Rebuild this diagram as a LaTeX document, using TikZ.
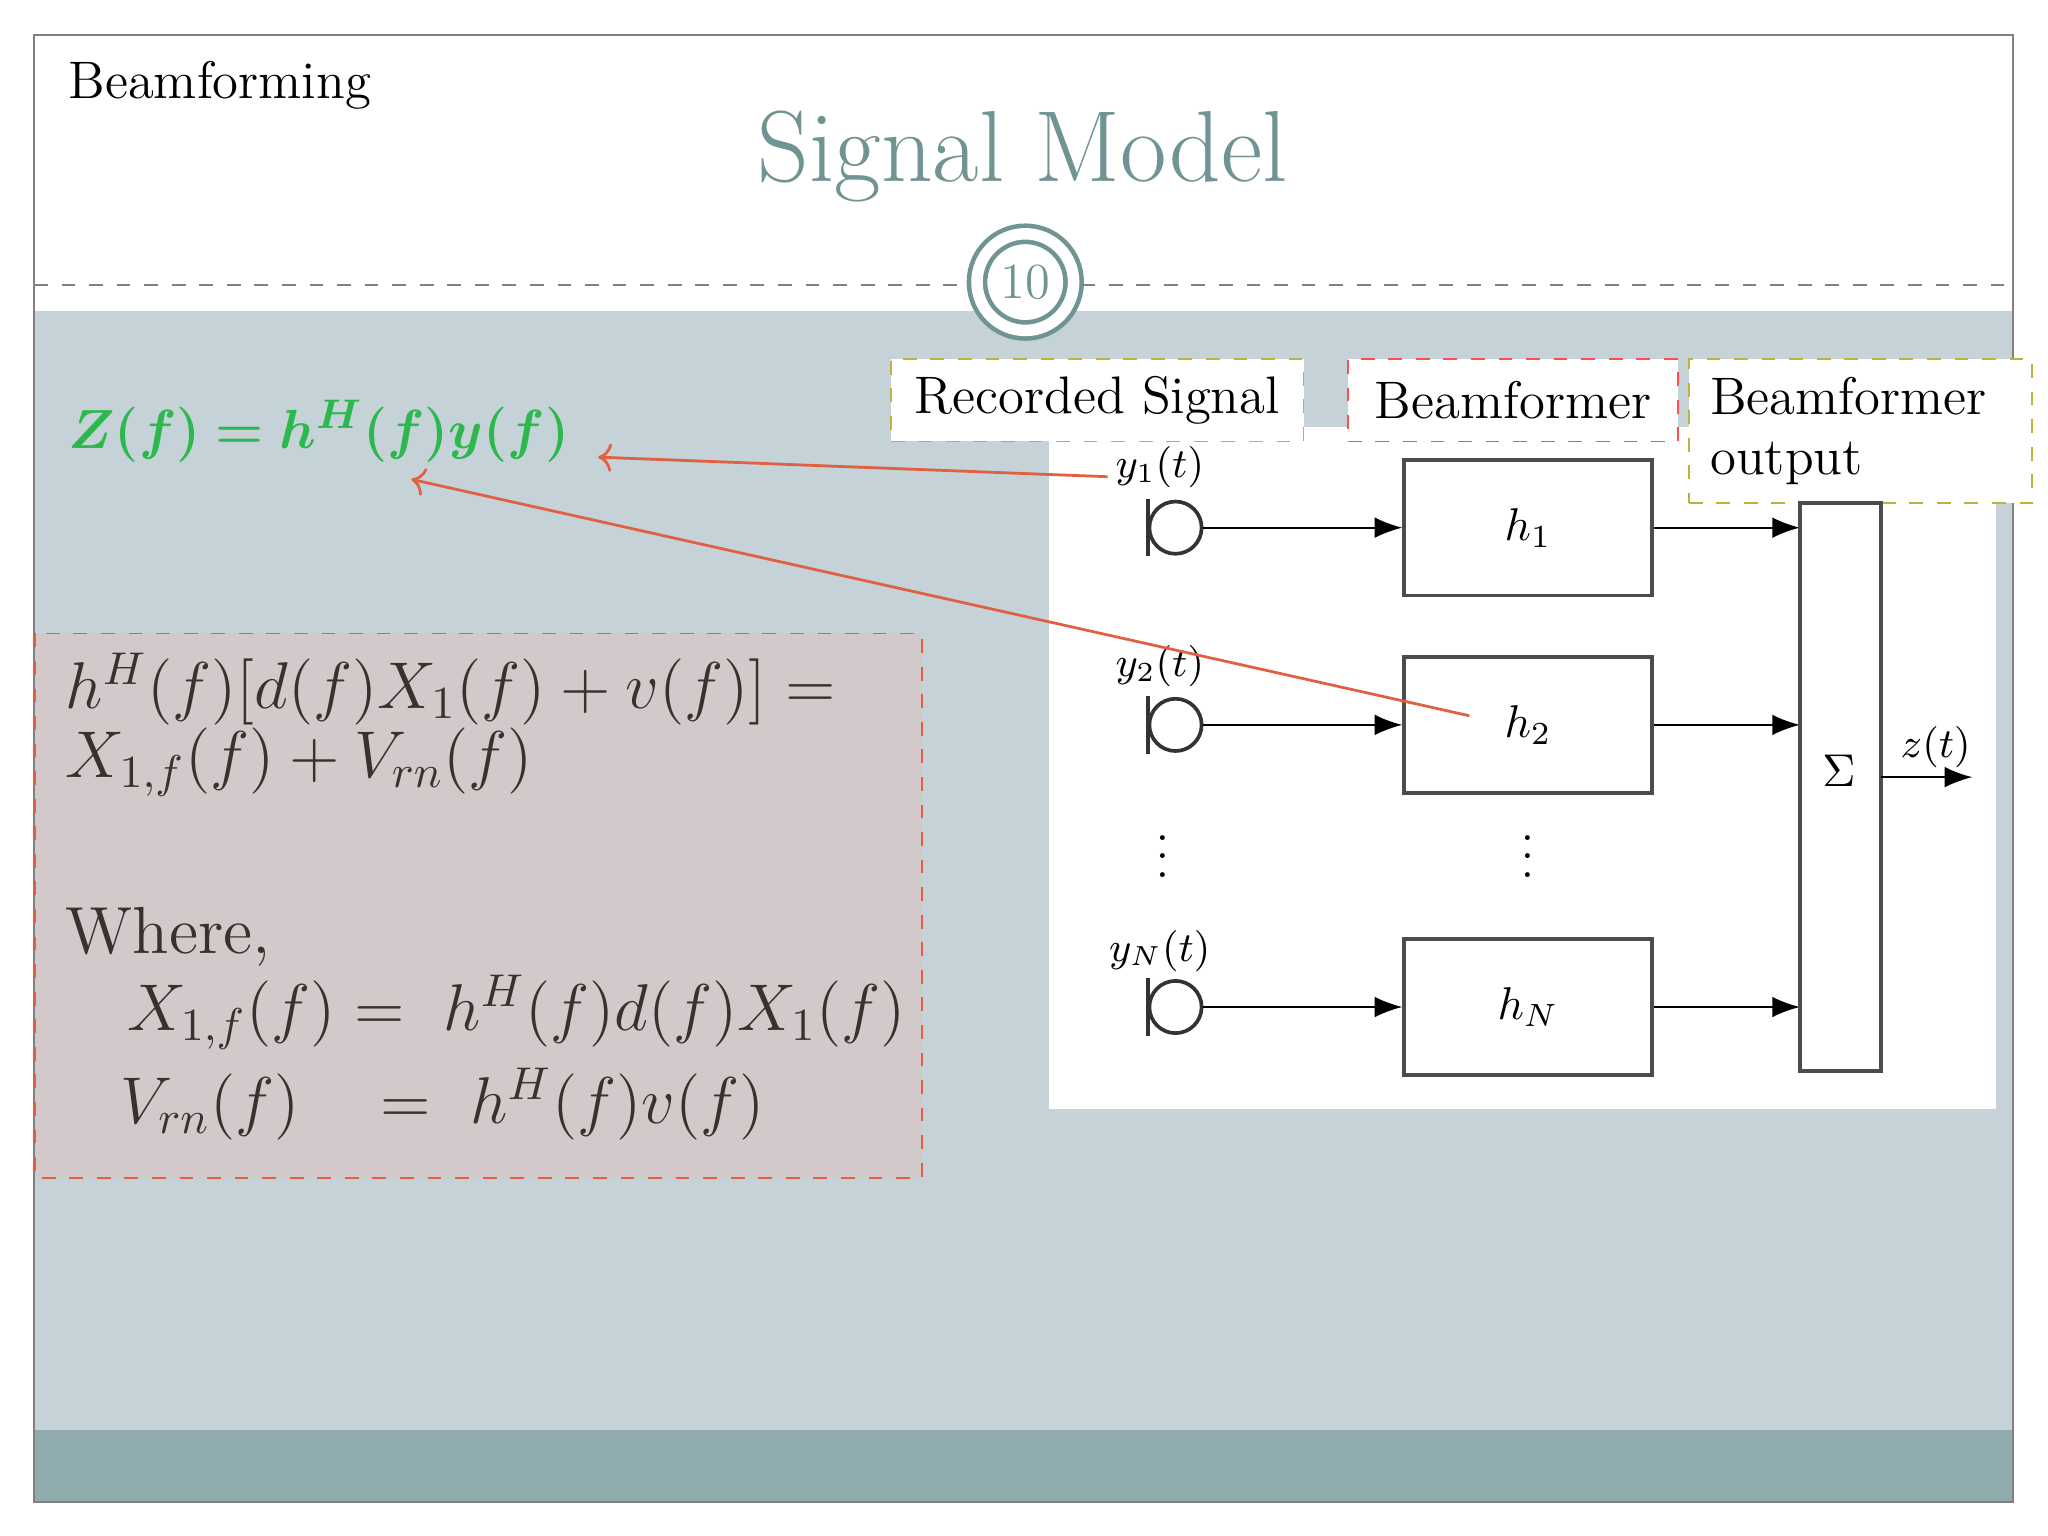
\documentclass[tikz,border=0pt]{standalone}
\usepackage{amsmath,bm}
\usetikzlibrary{arrows.meta}
\definecolor{bodyc}{HTML}{C5D2D8}
\definecolor{bandc}{HTML}{8FABAD}
\definecolor{titlec}{HTML}{6F9491}
\definecolor{greenc}{HTML}{2DB84D}
\definecolor{pinkc}{HTML}{D3C8CA}
\definecolor{redc}{HTML}{E0603F}
\definecolor{textc}{HTML}{3A3030}
\begin{document}
\begin{tikzpicture}[x=0.01cm,y=-0.01cm,
  hbox/.style={draw=black!70,thick},
  lab/.style={draw,dashed,fill=white},
  sig/.style={-{Latex[length=6pt]},black},
  red/.style={->,redc,semithick},
  mic/.style={draw=black!80,thick}]
\useasboundingbox (0,0) rectangle (1568,1176);
\fill[white] (0,0) rectangle (1568,1176);
\fill[bodyc] (26,238) rectangle (1541,1095);
\fill[bandc] (26,1095) rectangle (1541,1150);
\draw[gray] (26,27) rectangle (1541,1150);
\draw[gray,dashed] (26,218) -- (1541,218);
\node[circle,fill=white,draw=titlec,line width=1pt,double=white,double distance=2.5pt,minimum size=74*0.01cm,inner sep=0] (num) at (785,216) {};
\node[text=titlec,font=\fontsize{11}{13}\selectfont] at (785,216) {10};
\node[anchor=west,font=\fontsize{11.5}{13}\selectfont] (bf) at (40,65) {Beamforming};
\node[text=titlec,font=\fontsize{22}{26}\selectfont] (title) at (783,120) {Signal Model};
\node[anchor=west,text=greenc,font=\fontsize{13}{16}\selectfont] (eq) at (40,330) {$\bm{Z(f) = h^H(f)y(f)}$};
\draw[redc,dashed,fill=pinkc] (27,485) rectangle (706,902);
\node[anchor=north west,text=textc,font=\fontsize{14}{17}\selectfont,align=left] (box) at (38,488) {$h^H(f)[d(f)X_1(f)+v(f)] =$\\[-2pt]$X_{1,f}(f)+V_{rn}(f)$};
\node[anchor=north west,text=textc,font=\fontsize{14.5}{17}\selectfont,align=left] (where) at (38,682) {Where,};
\node[anchor=west,text=textc,font=\fontsize{14}{17}\selectfont] (e1) at (85,775) {$X_{1,f}(f) =\ h^H(f)d(f)X_1(f)$};
\node[anchor=west,text=textc,font=\fontsize{14}{17}\selectfont] (e2) at (80,845) {$V_{rn}(f)\ \ \ =\ h^H(f)v(f)$};
\fill[white] (803,327) rectangle (1528,849);
\node[lab,draw=yellow!70!black,minimum width=316*0.01cm,minimum height=63*0.01cm,font=\fontsize{11.5}{13}\selectfont] (l1) at (840,306.5) {Recorded Signal};
\node[lab,draw=red!70,minimum width=253*0.01cm,minimum height=63*0.01cm,font=\fontsize{11.5}{13}\selectfont] (l2) at (1158.5,306.5) {Beamformer};
\node[lab,draw=yellow!70!black,minimum width=263*0.01cm,minimum height=110*0.01cm,font=\fontsize{11.5}{13}\selectfont,align=left,text width=230*0.01cm] (l3) at (1424.5,330) {Beamformer\\output};
\foreach \i/\y/\hl in {1/404/1, 2/555/2, 3/771/N}{
  \draw[mic] (879,\y-22) -- (879,\y+22);
  \node[circle,draw=black!80,thick,minimum size=40*0.01cm,inner sep=0] (m\i) at (900,\y) {};
  \node[hbox,minimum width=190*0.01cm,minimum height=104*0.01cm] (h\i) at (1170,\y) {$h_{\hl}$};
  \draw[sig] (m\i.east) -- (h\i.west);
  \coordinate (s\i) at (1378,\y);
  \draw[sig] (h\i.east) -- (s\i);
}
\node[font=\fontsize{9}{11}\selectfont] (y1) at (888,358) {$y_1(t)$};
\node[font=\fontsize{9}{11}\selectfont] (y2) at (888,510) {$y_2(t)$};
\node[font=\fontsize{9}{11}\selectfont] (y3) at (888,728) {$y_N(t)$};
\node[inner sep=0] (d1) at (890,645) {$\vdots$};
\node[inner sep=0] (d2) at (1170,645) {$\vdots$};
\node[hbox,minimum width=62*0.01cm,minimum height=435*0.01cm] (sum) at (1409,602.5) {};
\node at (1408,590) {$\Sigma$};
\coordinate (out) at (1510,595);
\draw[sig] (1440,595) -- (out);
\node[font=\fontsize{9}{11}\selectfont] (z) at (1482,572) {$z(t)$};
\coordinate (a1) at (848,365);
\coordinate (a2) at (1125,548);
\draw[red] (a1) -- (458,350);
\draw[red] (a2) -- (315,367);
\end{tikzpicture}
\end{document}
